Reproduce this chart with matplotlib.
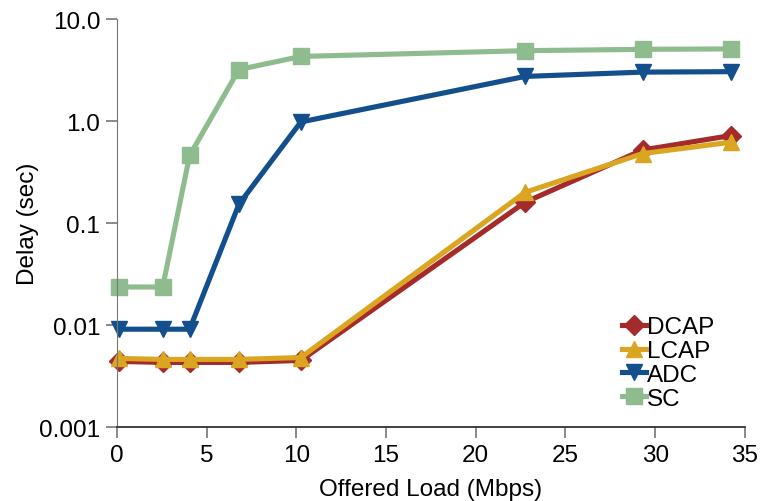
import matplotlib.pyplot as plt
from matplotlib.ticker import FixedLocator, NullLocator

plt.rcParams['font.family'] = ['Liberation Sans', 'DejaVu Sans']

# offered load (Mbps) at each measurement
load = [0.1, 2.55, 4.05, 6.8, 10.25, 22.75, 29.3, 34.2]

# mean delay (sec) per scheme
dcap = [0.0044, 0.0043, 0.0043, 0.0043, 0.0045, 0.16, 0.52, 0.72]
lcap = [0.0047, 0.0046, 0.0046, 0.0046, 0.0048, 0.20, 0.48, 0.62]
adc = [0.0091, 0.0091, 0.0091, 0.153, 0.98, 2.74, 3.02, 3.05]
sc = [0.0236, 0.0236, 0.46, 3.2, 4.3, 4.9, 5.05, 5.1]

series = [
    ("DCAP", dcap, "#a52a2a", "D", 10),
    ("LCAP", lcap, "#daa520", "^", 12),
    ("ADC", adc, "#124f8c", "v", 12),
    ("SC", sc, "#8fbc8f", "s", 11),
]

fig = plt.figure(figsize=(7.62, 5.02), dpi=100)
ax = fig.add_axes([0.1535, 0.1474, 0.824, 0.8126])

for name, vals, color, marker, ms in series:
    ax.plot(load, vals, color=color, marker=marker, markersize=ms,
            linewidth=3.7, label=name, clip_on=False)

ax.set_yscale("log")
ax.set_xlim(0, 35)
ax.set_ylim(0.001, 10)
ax.yaxis.set_major_locator(FixedLocator([0.001, 0.01, 0.1, 1, 10]))
ax.yaxis.set_minor_locator(NullLocator())
ax.set_yticklabels(["0.001", "0.01", "0.1", "1.0", "10.0"])
ax.set_xticks([0, 5, 10, 15, 20, 25, 30, 35])

for side in ("top", "right"):
    ax.spines[side].set_visible(False)
ax.spines["left"].set_color("#777777")
ax.spines["bottom"].set_color("#333333")
ax.spines["bottom"].set_linewidth(1.3)
ax.tick_params(axis="both", labelsize=17.5, length=8, width=1.2,
               color="#777777", pad=4)

ax.set_xlabel("Offered Load (Mbps)", fontsize=17.5, labelpad=9)
ax.set_ylabel("Delay (sec)", fontsize=17.5, labelpad=0)

ax.legend(loc="upper left", bbox_to_anchor=(0.804, 0.272), frameon=False,
          fontsize=17.5, handlelength=1.0, handletextpad=0.05,
          labelspacing=0.08, borderaxespad=0, borderpad=0)

fig.savefig("out.png", dpi=100)
